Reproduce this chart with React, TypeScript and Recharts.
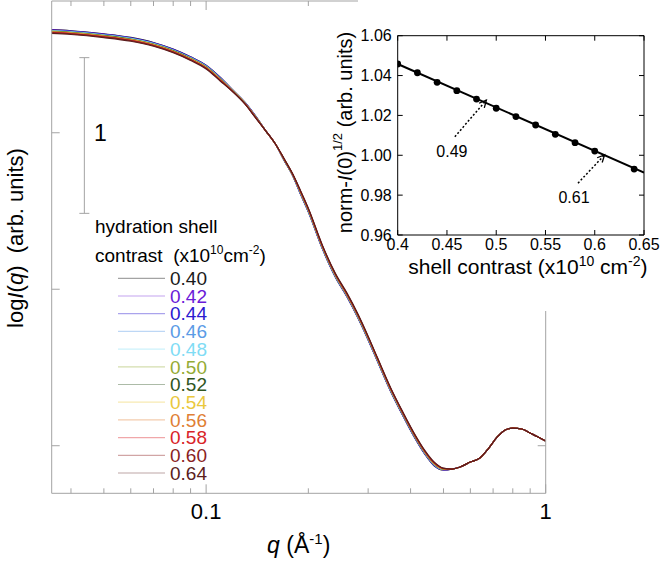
import React from 'react';
import {
  LineChart, Line, XAxis, YAxis, Legend, ReferenceLine, ReferenceDot,
  ComposedChart, Scatter,
} from 'recharts';

const FONT = "'Liberation Sans', Arial, Helvetica, sans-serif";

// ---------- main plot data ----------
const qValues = [0.035, 0.04, 0.05, 0.06, 0.07, 0.08, 0.09, 0.10, 0.11, 0.12, 0.13, 0.14, 0.15, 0.16, 0.17, 0.18, 0.19, 0.20, 0.22, 0.24, 0.26, 0.28, 0.30, 0.32, 0.35, 0.38, 0.41, 0.44, 0.47, 0.50, 0.53, 0.56, 0.60, 0.64, 0.68, 0.72, 0.76, 0.80, 0.85, 0.90, 0.95, 1.0];

const logI_040 = [2.659, 2.652, 2.632, 2.609, 2.577, 2.535, 2.486, 2.432, 2.355, 2.272, 2.196, 2.106, 2.011, 1.928, 1.820, 1.724, 1.603, 1.494, 1.258, 1.079, 0.951, 0.817, 0.676, 0.536, 0.344, 0.190, 0.056, -0.052, -0.129, -0.155, -0.149, -0.136, -0.104, -0.079, -0.015, 0.056, 0.101, 0.113, 0.107, 0.081, 0.056, 0.030];
const logI_042 = [2.657, 2.650, 2.630, 2.607, 2.575, 2.533, 2.484, 2.430, 2.353, 2.271, 2.195, 2.105, 2.011, 1.928, 1.821, 1.725, 1.605, 1.496, 1.260, 1.081, 0.953, 0.819, 0.678, 0.538, 0.346, 0.192, 0.058, -0.050, -0.127, -0.154, -0.149, -0.136, -0.104, -0.079, -0.015, 0.056, 0.101, 0.113, 0.107, 0.081, 0.056, 0.030];
const logI_044 = [2.655, 2.648, 2.628, 2.605, 2.573, 2.531, 2.482, 2.428, 2.351, 2.270, 2.194, 2.104, 2.011, 1.928, 1.822, 1.726, 1.607, 1.498, 1.262, 1.083, 0.955, 0.821, 0.680, 0.540, 0.348, 0.194, 0.060, -0.048, -0.125, -0.153, -0.149, -0.136, -0.104, -0.079, -0.015, 0.056, 0.101, 0.113, 0.107, 0.081, 0.056, 0.030];
const logI_046 = [2.653, 2.646, 2.626, 2.603, 2.571, 2.529, 2.480, 2.426, 2.349, 2.269, 2.193, 2.103, 2.011, 1.928, 1.823, 1.727, 1.609, 1.500, 1.264, 1.085, 0.957, 0.823, 0.682, 0.542, 0.350, 0.196, 0.062, -0.046, -0.123, -0.152, -0.149, -0.136, -0.104, -0.079, -0.015, 0.056, 0.101, 0.113, 0.107, 0.081, 0.056, 0.030];
const logI_048 = [2.651, 2.644, 2.624, 2.601, 2.569, 2.527, 2.478, 2.424, 2.347, 2.268, 2.192, 2.102, 2.011, 1.928, 1.824, 1.728, 1.611, 1.502, 1.266, 1.087, 0.959, 0.825, 0.684, 0.544, 0.352, 0.198, 0.064, -0.044, -0.121, -0.151, -0.149, -0.136, -0.104, -0.079, -0.015, 0.056, 0.101, 0.113, 0.107, 0.081, 0.056, 0.030];
const logI_050 = [2.649, 2.642, 2.622, 2.599, 2.567, 2.525, 2.476, 2.422, 2.345, 2.267, 2.191, 2.101, 2.011, 1.928, 1.825, 1.729, 1.613, 1.504, 1.268, 1.089, 0.961, 0.827, 0.686, 0.546, 0.354, 0.200, 0.066, -0.042, -0.119, -0.150, -0.149, -0.136, -0.104, -0.079, -0.015, 0.056, 0.101, 0.113, 0.107, 0.081, 0.056, 0.030];
const logI_052 = [2.647, 2.640, 2.620, 2.597, 2.565, 2.523, 2.474, 2.420, 2.343, 2.266, 2.190, 2.100, 2.011, 1.928, 1.826, 1.730, 1.615, 1.506, 1.270, 1.091, 0.963, 0.829, 0.688, 0.548, 0.356, 0.202, 0.068, -0.040, -0.117, -0.149, -0.149, -0.136, -0.104, -0.079, -0.015, 0.056, 0.101, 0.113, 0.107, 0.081, 0.056, 0.030];
const logI_054 = [2.645, 2.638, 2.618, 2.595, 2.563, 2.521, 2.472, 2.418, 2.341, 2.265, 2.189, 2.099, 2.011, 1.928, 1.827, 1.731, 1.617, 1.508, 1.272, 1.093, 0.965, 0.831, 0.690, 0.550, 0.358, 0.204, 0.070, -0.038, -0.115, -0.148, -0.149, -0.136, -0.104, -0.079, -0.015, 0.056, 0.101, 0.113, 0.107, 0.081, 0.056, 0.030];
const logI_056 = [2.643, 2.636, 2.616, 2.593, 2.561, 2.519, 2.470, 2.416, 2.339, 2.264, 2.188, 2.098, 2.011, 1.928, 1.828, 1.732, 1.619, 1.510, 1.274, 1.095, 0.967, 0.833, 0.692, 0.552, 0.360, 0.206, 0.072, -0.036, -0.113, -0.147, -0.149, -0.136, -0.104, -0.079, -0.015, 0.056, 0.101, 0.113, 0.107, 0.081, 0.056, 0.030];
const logI_058 = [2.641, 2.634, 2.614, 2.591, 2.559, 2.517, 2.468, 2.414, 2.337, 2.263, 2.187, 2.097, 2.011, 1.928, 1.829, 1.733, 1.621, 1.512, 1.276, 1.097, 0.969, 0.835, 0.694, 0.554, 0.362, 0.208, 0.074, -0.034, -0.111, -0.146, -0.149, -0.136, -0.104, -0.079, -0.015, 0.056, 0.101, 0.113, 0.107, 0.081, 0.056, 0.030];
const logI_060 = [2.639, 2.632, 2.612, 2.589, 2.557, 2.515, 2.466, 2.412, 2.335, 2.262, 2.186, 2.096, 2.011, 1.928, 1.830, 1.734, 1.623, 1.514, 1.278, 1.099, 0.971, 0.837, 0.696, 0.556, 0.364, 0.210, 0.076, -0.032, -0.109, -0.145, -0.149, -0.136, -0.104, -0.079, -0.015, 0.056, 0.101, 0.113, 0.107, 0.081, 0.056, 0.030];
const logI_064 = [2.635, 2.628, 2.608, 2.585, 2.553, 2.511, 2.462, 2.408, 2.331, 2.260, 2.184, 2.094, 2.011, 1.928, 1.832, 1.736, 1.627, 1.518, 1.282, 1.103, 0.975, 0.841, 0.700, 0.560, 0.368, 0.214, 0.080, -0.028, -0.105, -0.143, -0.149, -0.136, -0.104, -0.079, -0.015, 0.056, 0.101, 0.113, 0.107, 0.081, 0.056, 0.030];

const contrastLabels = ['0.40', '0.42', '0.44', '0.46', '0.48', '0.50', '0.52', '0.54', '0.56', '0.58', '0.60', '0.64'];
const seriesColors = ['#1a1a1a', '#6a1ad8', '#2a1ad0', '#5b9be6', '#7fdcf5', '#94ab35', '#2f5522', '#eac83c', '#e07f35', '#d92328', '#8b1f1f', '#5b1d1d'];
const seriesValues = [logI_040, logI_042, logI_044, logI_046, logI_048, logI_050, logI_052, logI_054, logI_056, logI_058, logI_060, logI_064];

const qTicks = [0.04, 0.05, 0.06, 0.07, 0.08, 0.09, 0.1, 0.2, 0.3, 0.4, 0.5, 0.6, 0.7, 0.8, 0.9, 1];
const qTickLabels: Record<string, string> = { '0.1': '0.1', '1': '1' };
const logITicks = [0, 1, 2];
const qDomain = [0.0351, 1];
const logIDomain = [-0.304, 2.842];

const scaleBarQ = 0.0438;
const scaleBarLogI = [2.48, 1.485];
const scaleBarLabel = '1';
const scaleBarLabelPos = { x: 0.0488, y: 1.998 };

// ---------- inset data ----------
const insetContrast = [0.40, 0.42, 0.44, 0.46, 0.48, 0.50, 0.52, 0.54, 0.56, 0.58, 0.60, 0.64];
const insetNormI0 = [1.0458, 1.0414, 1.0366, 1.0324, 1.0282, 1.0236, 1.0194, 1.0152, 1.0105, 1.0063, 1.0021, 0.9931];
const fitContrast = [0.40, 0.65];
const fitNormI0 = [1.0458, 0.9913];
const insetXTicks = [0.4, 0.45, 0.5, 0.55, 0.6, 0.65];
const insetXTickLabels = ['0.4', '0.45', '0.5', '0.55', '0.6', '0.65'];
const insetYTicks = [0.96, 0.98, 1.0, 1.02, 1.04, 1.06];
const insetYTickLabels = ['0.96', '0.98', '1.00', '1.02', '1.04', '1.06'];
const arrowFrom = [{ x: 0.458, y: 1.0093 }, { x: 0.583, y: 0.986 }];
const arrowTo = [{ x: 0.490, y: 1.0277 }, { x: 0.610, y: 1.0002 }];
const arrowLabels = ['0.49', '0.61'];
const arrowLabelPos = [{ x: 0.455, y: 1.0018 }, { x: 0.579, y: 0.979 }];

const mainData = qValues.map((q, i) => {
  const row: any = { q };
  seriesValues.forEach((arr, k) => { row['s' + k] = arr[i]; });
  return row;
});
const scatterData = insetContrast.map((x, i) => ({ x, y: insetNormI0[i] }));
const fitData = fitContrast.map((x, i) => ({ x, y: fitNormI0[i] }));

const GRAY = '#a3a3a3';

const BottomTick = (p: any) => {
  const v = p.payload.value;
  const label = qTickLabels[String(v)];
  const len = label ? 9 : 5;
  return (
    <g>
      <line x1={p.x} x2={p.x} y1={p.y} y2={p.y - len} stroke={GRAY} strokeWidth={1} />
      {label && (
        <text x={p.x} y={p.y + 26} textAnchor="middle" fontSize={22} fontFamily={FONT} fill="#000">{label}</text>
      )}
    </g>
  );
};
const TopTick = (p: any) => {
  const v = p.payload.value;
  const len = qTickLabels[String(v)] ? 9 : 5;
  return <line x1={p.x} x2={p.x} y1={p.y} y2={p.y + len} stroke={GRAY} strokeWidth={1} />;
};
const LeftTick = (p: any) => <line x1={p.x} x2={p.x + 8} y1={p.y} y2={p.y} stroke={GRAY} strokeWidth={1} />;
const RightTick = (p: any) => <line x1={p.x} x2={p.x - 8} y1={p.y} y2={p.y} stroke={GRAY} strokeWidth={1} />;

const ScaleBarShape = (p: any) => (
  <g stroke={GRAY} strokeWidth={1}>
    <line x1={p.x1} x2={p.x2} y1={p.y1} y2={p.y2} />
    <line x1={p.x1 - 5} x2={p.x1 + 5} y1={p.y1} y2={p.y1} />
    <line x1={p.x2 - 5} x2={p.x2 + 5} y1={p.y2} y2={p.y2} />
  </g>
);
const ScaleLabelShape = (p: any) => (
  <text x={p.cx} y={p.cy + 8} textAnchor="middle" fontSize={23} fontFamily={FONT} fill="#000">{scaleBarLabel}</text>
);

const MainXTitle = (p: any) => {
  const vb = p.viewBox;
  return (
    <text x={vb.x + vb.width / 2} y={vb.y + 60} textAnchor="middle" fontSize={23} fontFamily={FONT} fill="#000">
      <tspan fontStyle="italic">q</tspan>
      <tspan> (Å</tspan>
      <tspan dy={-9} fontSize={15}>-1</tspan>
      <tspan dy={9}>)</tspan>
    </text>
  );
};
const MainYTitle = (p: any) => {
  const vb = p.viewBox;
  const cx = vb.x - 35.7;
  const cy = 238;
  return (
    <text x={cx} y={cy} transform={`rotate(-90, ${cx}, ${cy})`} textAnchor="middle" dominantBaseline="central"
      fontSize={22} fontFamily={FONT} fill="#000" style={{ whiteSpace: 'pre' }}>
      log<tspan fontStyle="italic">I</tspan>(<tspan fontStyle="italic">q</tspan>)  (arb. units)
    </text>
  );
};

const LegendContent = () => {
  const fs = 19;
  const x0 = 95;
  const base0 = 285;
  const step = 17.7;
  return (
    <svg width={661} height={561} style={{ display: 'block', pointerEvents: 'none' }}>
      <text x={x0} y={233.3} fontSize={fs} fontFamily={FONT} fill="#000">hydration shell</text>
      <text x={x0} y={261.7} fontSize={fs} fontFamily={FONT} fill="#000" style={{ whiteSpace: 'pre' }}>
        contrast  (x10<tspan dy={-8} fontSize={12}>10</tspan><tspan dy={8}>cm</tspan><tspan dy={-8} fontSize={12}>-2</tspan><tspan dy={8}>)</tspan>
      </text>
      {contrastLabels.map((lab, k) => {
        const b = base0 + k * step;
        return (
          <g key={lab}>
            <line x1={118} x2={165} y1={b - 6.7} y2={b - 6.7} stroke={seriesColors[k]} strokeOpacity={0.4} strokeWidth={1.2} />
            <text x={170} y={b} fontSize={fs} fontFamily={FONT} fill={seriesColors[k]}>{lab}</text>
          </g>
        );
      })}
    </svg>
  );
};

// ---------- inset ----------
const InsetBottomTick = (p: any) => {
  const i = insetXTicks.indexOf(p.payload.value);
  return (
    <g>
      <line x1={p.x} x2={p.x} y1={p.y} y2={p.y - 5} stroke="#000" />
      <text x={p.x} y={p.y + 15} textAnchor="middle" fontSize={16} fontFamily={FONT} fill="#000">{insetXTickLabels[i]}</text>
    </g>
  );
};
const InsetTopTick = (p: any) => <line x1={p.x} x2={p.x} y1={p.y} y2={p.y + 5} stroke="#000" />;
const InsetLeftTick = (p: any) => {
  const i = insetYTicks.indexOf(p.payload.value);
  return (
    <g>
      <line x1={p.x} x2={p.x + 5} y1={p.y} y2={p.y} stroke="#000" />
      <text x={p.x - 6} y={p.y + 5.7} textAnchor="end" fontSize={16} fontFamily={FONT} fill="#000">{insetYTickLabels[i]}</text>
    </g>
  );
};
const InsetRightTick = (p: any) => <line x1={p.x} x2={p.x - 5} y1={p.y} y2={p.y} stroke="#000" />;

const ArrowShape = (p: any) => {
  const { x1, y1, x2, y2 } = p;
  const ang = Math.atan2(y2 - y1, x2 - x1);
  const L = 8;
  const a = 0.45;
  const hx1 = x2 - L * Math.cos(ang - a);
  const hy1 = y2 - L * Math.sin(ang - a);
  const hx2 = x2 - L * Math.cos(ang + a);
  const hy2 = y2 - L * Math.sin(ang + a);
  return (
    <g>
      <line x1={x1} y1={y1} x2={x2} y2={y2} stroke="#000" strokeWidth={1.5} strokeDasharray="2 2" />
      <polyline points={`${hx1},${hy1} ${x2},${y2} ${hx2},${hy2}`} fill="none" stroke="#000" strokeWidth={1.3} />
    </g>
  );
};
const makeArrowLabel = (txt: string) => (p: any) => (
  <text x={p.cx} y={p.cy + 5.7} textAnchor="middle" fontSize={16} fontFamily={FONT} fill="#000">{txt}</text>
);
const DotShape = (p: any) => <circle cx={p.cx} cy={p.cy} r={3.4} fill="#000" />;

const InsetXTitle = (p: any) => {
  const vb = p.viewBox;
  return (
    <text x={vb.x + vb.width / 2 + 7} y={vb.y + 39} textAnchor="middle" fontSize={21} fontFamily={FONT} fill="#000">
      shell contrast (x10<tspan dy={-8} fontSize={14}>10</tspan><tspan dy={8}> cm</tspan><tspan dy={-8} fontSize={14}>-2</tspan><tspan dy={8}>)</tspan>
    </text>
  );
};
const InsetYTitle = (p: any) => {
  const vb = p.viewBox;
  const cx = vb.x - 51.7;
  const cy = 132.5;
  return (
    <text x={cx} y={cy} transform={`rotate(-90, ${cx}, ${cy})`} textAnchor="middle" dominantBaseline="central"
      fontSize={20} fontFamily={FONT} fill="#000">
      norm-<tspan fontStyle="italic">I</tspan>(0)<tspan dy={-8} fontSize={13}>1/2</tspan><tspan dy={8}> (arb. units)</tspan>
    </text>
  );
};

export default function App() {
  return (
    <div style={{ position: 'absolute', left: 0, top: 0, width: 661, height: 561, background: '#fff', fontFamily: FONT }}>
      <div style={{ position: 'absolute', left: 0, top: 0 }}>
        <LineChart width={661} height={561} data={mainData} margin={{ top: 0, right: 114.3, bottom: 66.7, left: 50.7 }}>
          <XAxis dataKey="q" type="number" scale="log" domain={qDomain} allowDataOverflow ticks={qTicks} interval={0}
            height={1} tickSize={0} tickMargin={0} tickLine={false} tick={BottomTick} stroke={GRAY}
            label={MainXTitle} />
          <XAxis xAxisId="top" orientation="top" dataKey="q" type="number" scale="log" domain={qDomain} allowDataOverflow
            ticks={qTicks} interval={0} height={1} tickSize={0} tickMargin={0} tickLine={false} tick={TopTick} stroke={GRAY} />
          <YAxis type="number" domain={logIDomain} allowDataOverflow ticks={logITicks} interval={0} width={1}
            tickSize={0} tickMargin={0} tickLine={false} tick={LeftTick} stroke={GRAY} label={MainYTitle} />
          <YAxis yAxisId="right" orientation="right" type="number" domain={logIDomain} allowDataOverflow ticks={logITicks}
            interval={0} width={1} tickSize={0} tickMargin={0} tickLine={false} tick={RightTick} stroke={GRAY} />
          {seriesValues.map((_, k) => (
            <Line key={k} type="monotone" dataKey={'s' + k} name={contrastLabels[k]} stroke={seriesColors[k]}
              strokeWidth={1.2} dot={false} isAnimationActive={false} />
          ))}
          <ReferenceLine segment={[{ x: scaleBarQ, y: scaleBarLogI[0] }, { x: scaleBarQ, y: scaleBarLogI[1] }]}
            ifOverflow="visible" shape={ScaleBarShape} />
          <ReferenceDot x={scaleBarLabelPos.x} y={scaleBarLabelPos.y} r={0} ifOverflow="visible" shape={ScaleLabelShape} />
          <Legend layout="vertical" align="center" verticalAlign="middle" content={LegendContent}
            wrapperStyle={{ left: 0, top: 0, width: 661, height: 561, pointerEvents: 'none' }} />
        </LineChart>
      </div>
      <div style={{ position: 'absolute', left: 358, top: 0, width: 303, height: 311, background: '#fff' }} />
      <div style={{ position: 'absolute', left: 320, top: 0 }}>
        <ComposedChart width={341} height={311} margin={{ top: 34.7, right: 16, bottom: 75, left: 76.7 }}>
          <XAxis dataKey="x" type="number" domain={[0.4, 0.65]} ticks={insetXTicks} interval={0} height={1}
            tickSize={0} tickMargin={0} tickLine={false} tick={InsetBottomTick} stroke="#000" label={InsetXTitle} allowDataOverflow />
          <XAxis xAxisId="top" orientation="top" dataKey="x" type="number" domain={[0.4, 0.65]} ticks={insetXTicks}
            interval={0} height={1} tickSize={0} tickMargin={0} tickLine={false} tick={InsetTopTick} stroke="#000" allowDataOverflow />
          <YAxis type="number" domain={[0.96, 1.06]} ticks={insetYTicks} interval={0} width={1} tickSize={0}
            tickMargin={0} tickLine={false} tick={InsetLeftTick} stroke="#000" label={InsetYTitle} allowDataOverflow />
          <YAxis yAxisId="r" orientation="right" type="number" domain={[0.96, 1.06]} ticks={insetYTicks} interval={0}
            width={1} tickSize={0} tickMargin={0} tickLine={false} tick={InsetRightTick} stroke="#000" allowDataOverflow />
          <Line data={fitData} dataKey="y" type="linear" stroke="#000" strokeWidth={2} dot={false} isAnimationActive={false} />
          <Scatter data={scatterData} dataKey="y" shape={DotShape} isAnimationActive={false} />
          {arrowFrom.map((f, i) => (
            <ReferenceLine key={'a' + i} segment={[f, arrowTo[i]]} ifOverflow="visible" shape={ArrowShape} />
          ))}
          {arrowLabelPos.map((pos, i) => (
            <ReferenceDot key={'l' + i} x={pos.x} y={pos.y} r={0} ifOverflow="visible" shape={makeArrowLabel(arrowLabels[i])} />
          ))}
        </ComposedChart>
      </div>
    </div>
  );
}
